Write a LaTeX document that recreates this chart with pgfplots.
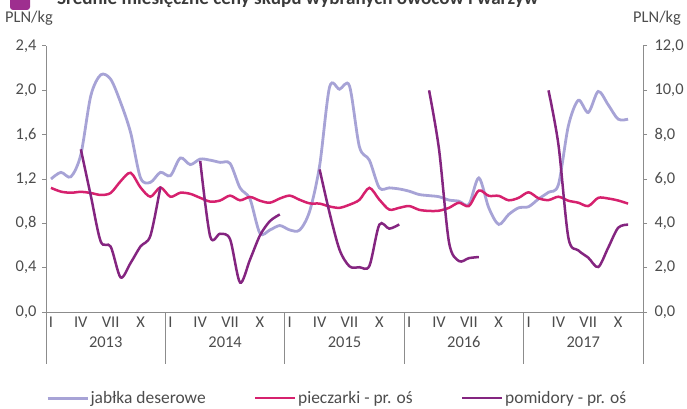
\documentclass[border=0pt]{standalone}
\usepackage{pgfplots}
\pgfplotsset{compat=1.18}
\usepackage{fontspec}
\setmainfont{Carlito}
\definecolor{jab}{HTML}{A7A3D6}
\definecolor{pie}{HTML}{D6216E}
\definecolor{pom}{HTML}{842580}
\definecolor{axgray}{HTML}{8C8C8C}
\definecolor{txt}{HTML}{4D4D4D}
\definecolor{ttl}{HTML}{3A3A3A}
\definecolor{sq}{HTML}{9E2F8F}
\newcommand{\fs}{\fontsize{16.5}{16.5}\selectfont}
\newcommand{\fl}{\fontsize{17.5}{17.5}\selectfont}
\begin{document}
\begin{tikzpicture}[x=1bp,y=1bp]
\useasboundingbox (0,0) rectangle (687,408);
\fill[sq, rounded corners=3bp] (10,398) rectangle (30,420);
\node[anchor=base west, inner sep=0, text=ttl, font=\fontsize{19.2}{19.2}\selectfont\bfseries] at (57,403) {Średnie miesięczne ceny skupu wybranych owoców i warzyw};
\node[anchor=west, inner sep=0, text=txt, font=\fs] at (5,390) {PLN/kg};
\node[anchor=east, inner sep=0, text=txt, font=\fs] at (681,390) {PLN/kg};

\pgfplotsset{
  mybase/.style={
    at={(46bp,96bp)}, anchor=south west, width=597bp, height=266bp, scale only axis,
    xmin=-0.5, xmax=59.5, clip=false,
    tick align=outside, major tick length=4bp,
    tick style={axgray, line width=1bp},
    axis line style={axgray, line width=1bp, -},
    yticklabel style={font=\fs, text=txt,
      /pgf/number format/fixed, /pgf/number format/fixed zerofill, /pgf/number format/precision=1,
      /pgf/number format/use comma, /pgf/number format/assume math mode=true},
  }
}

\begin{axis}[mybase,
  ymin=0, ymax=2.4,
  axis x line*=bottom, axis y line*=left,
  ytick={0,0.4,0.8,1.2,1.6,2.0,2.4},
  xtick={0,3,6,9,12,15,18,21,24,27,30,33,36,39,42,45,48,51,54,57},
  xticklabels={I,IV,VII,X,I,IV,VII,X,I,IV,VII,X,I,IV,VII,X,I,IV,VII,X},
  x tick style={draw=none},
  xticklabel style={font=\fs, text=txt, anchor=center, yshift=-6bp},
  yticklabel style={xshift=-2bp},
]
\addplot[jab, line width=2.8bp, smooth] coordinates {
(0,1.20) (1,1.26) (2,1.22) (3,1.42) (4,1.95) (5,2.14) (6,2.10) (7,1.89) (8,1.62) (9,1.21)
(10,1.17) (11,1.26) (12,1.23) (13,1.39) (14,1.33) (15,1.38) (16,1.37) (17,1.35) (18,1.34) (19,1.12)
(20,1.02) (21,0.71) (22,0.74) (23,0.78) (24,0.74) (25,0.74) (26,0.91) (27,1.32) (28,2.03) (29,2.01)
(30,2.04) (31,1.49) (32,1.37) (33,1.12) (34,1.12) (35,1.11) (36,1.09) (37,1.06) (38,1.05) (39,1.04)
(40,1.01) (41,1.00) (42,0.97) (43,1.21) (44,0.94) (45,0.79) (46,0.88) (47,0.94) (48,0.95) (49,1.02)
(50,1.08) (51,1.15) (52,1.68) (53,1.91) (54,1.80) (55,1.99) (56,1.87) (57,1.74) (58,1.74)
};
\pgfplotsinvokeforeach{-0.5,11.5,23.5,35.5,47.5,59.5}{
  \draw[axgray, line width=1bp] (axis cs:#1,0) -- ([yshift=-52bp]axis cs:#1,0);
}
\node[font=\fs, text=txt, yshift=-30bp] at (axis cs:5.5,0) {2013};
\node[font=\fs, text=txt, yshift=-30bp] at (axis cs:17.5,0) {2014};
\node[font=\fs, text=txt, yshift=-30bp] at (axis cs:29.5,0) {2015};
\node[font=\fs, text=txt, yshift=-30bp] at (axis cs:41.5,0) {2016};
\node[font=\fs, text=txt, yshift=-30bp] at (axis cs:53.5,0) {2017};
\end{axis}

\begin{axis}[mybase,
  ymin=0, ymax=12,
  axis y line*=right, axis x line=none,
  ytick={0,2,4,6,8,10,12},
  yticklabel style={xshift=4bp},
  legend style={at={(0,-0.324)}, anchor=west, draw=none, legend columns=3,
    font=\fl, text=txt, inner sep=0pt, nodes={inner sep=1.5bp},
    /tikz/every even column/.append style={column sep=47bp}},
  legend image code/.code={\draw[#1] (0bp,0bp) -- (40bp,0bp);},
]
\addlegendimage{jab, line width=2.8bp}
\addlegendentry{jabłka deserowe}
\addplot[pie, line width=2.5bp, smooth] coordinates {
(0,5.60) (1,5.43) (2,5.38) (3,5.42) (4,5.37) (5,5.28) (6,5.37) (7,5.90) (8,6.28) (9,5.62)
(10,5.20) (11,5.62) (12,5.20) (13,5.38) (14,5.33) (15,5.15) (16,4.98) (17,5.03) (18,5.25) (19,5.04)
(20,5.19) (21,5.02) (22,4.93) (23,5.12) (24,5.25) (25,5.06) (26,4.90) (27,4.89) (28,4.76) (29,4.70)
(30,4.84) (31,5.06) (32,5.60) (33,5.07) (34,4.62) (35,4.70) (36,4.78) (37,4.61) (38,4.56) (39,4.57)
(40,4.70) (41,4.93) (42,4.78) (43,5.48) (44,5.24) (45,5.24) (46,5.04) (47,5.15) (48,5.40) (49,5.13)
(50,5.05) (51,5.20) (52,5.02) (53,4.93) (54,4.78) (55,5.15) (56,5.12) (57,5.03) (58,4.89)
};
\addlegendentry{pieczarki - pr. oś}
\addplot[pom, line width=2.5bp, smooth] coordinates {
(3,7.34) (4,5.25) (5,3.18) (6,2.95) (7,1.56) (8,2.21) (9,2.96) (10,3.45) (11,5.65)
};
\addlegendentry{pomidory - pr. oś}
\addplot[pom, line width=2.5bp, smooth, forget plot] coordinates {
(15,6.81) (16,3.41) (17,3.53) (18,3.28) (19,1.33) (20,2.36) (21,3.45) (22,4.10) (23,4.40)
};
\addplot[pom, line width=2.5bp, smooth, forget plot] coordinates {
(27,6.43) (28,4.47) (29,2.81) (30,2.06) (31,2.02) (32,2.08) (33,3.94) (34,3.76) (35,3.95)
};
\addplot[pom, line width=2.5bp, smooth, forget plot] coordinates {
(38,10.0) (39,7.34) (40,3.15) (41,2.30) (42,2.43) (43,2.48)
};
\addplot[pom, line width=2.5bp, smooth, forget plot] coordinates {
(50,10.0) (51,7.55) (52,3.35) (53,2.78) (54,2.45) (55,2.03) (56,2.90) (57,3.80) (58,3.94)
};
\end{axis}
\end{tikzpicture}
\end{document}
